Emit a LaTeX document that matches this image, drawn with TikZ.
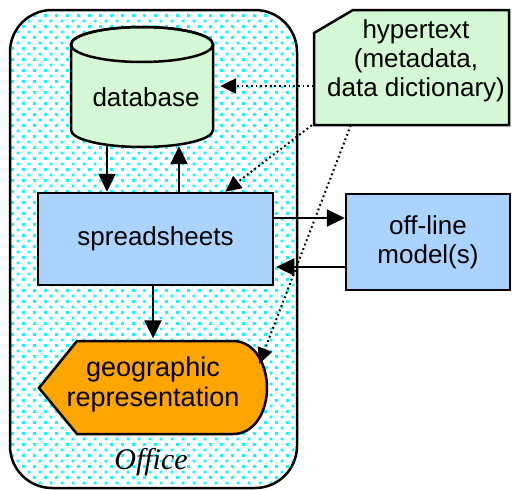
\documentclass[tikz,border=0pt]{standalone}
\usepackage{fontspec}
\setmainfont{Liberation Sans}
\newfontfamily\officefont{Liberation Serif}
\usetikzlibrary{arrows.meta,patterns,calc}
\pgfdeclarepatternformonly{cyandots}{\pgfqpoint{-1pt}{-1pt}}{\pgfqpoint{12pt}{12pt}}{\pgfqpoint{11pt}{11pt}}{%
  \pgfpathrectangle{\pgfqpoint{0pt}{0pt}}{\pgfqpoint{2.8pt}{2.8pt}}%
  \pgfpathrectangle{\pgfqpoint{5.5pt}{5.5pt}}{\pgfqpoint{2.8pt}{2.8pt}}%
  \pgfusepath{fill}}
\definecolor{dbgreen}{RGB}{212,248,212}
\definecolor{boxblue}{RGB}{170,212,255}
\definecolor{geoorange}{RGB}{255,165,0}
\definecolor{dotcyan}{RGB}{0,255,255}
\begin{document}
\begin{tikzpicture}[x=1pt,y=-1pt,
  lbl/.style={font=\fontsize{26}{29}\selectfont, align=center, inner sep=0pt},
  anchorbox/.style={draw=none, inner sep=0pt},
  bluebox/.style={draw, line width=2.5pt, fill=boxblue, inner sep=0pt, align=center, font=\fontsize{26}{29}\selectfont},
  arr/.style={line width=2.2pt, -{Triangle[length=18pt,width=17pt]}},
  dotarr/.style={line width=2pt, dash pattern=on 1.8pt off 2.9pt, -{Triangle[length=16pt,width=15pt]}}
]
\useasboundingbox (0,0) rectangle (512,490);
% Office region
\fill[white] (10,10) [rounded corners=42pt] rectangle (297,488);
\fill[pattern=cyandots, pattern color=dotcyan] (10,10) [rounded corners=42pt] rectangle (297,488);
\draw[line width=2.5pt] (10,10) [rounded corners=42pt] rectangle (297,488);
\node[anchor=base, inner sep=0pt, font=\officefont\itshape\fontsize{30}{32}\selectfont] (office) at (151,469) {Office};

% database cylinder
\filldraw[fill=dbgreen, line width=2.5pt] (71,44.5) -- (71,130)
  arc[start angle=180, end angle=360, x radius=71pt, y radius=17pt]
  -- (213,44.5)
  arc[start angle=0, end angle=180, x radius=71pt, y radius=17.5pt] -- cycle;
\draw[line width=2.5pt] (142,44.5) ellipse [x radius=71pt, y radius=17.5pt];
\node[anchorbox, minimum width=142pt, minimum height=118pt] (db) at (142,86) {};
\node[lbl] (dblabel) at (146,97) {database};

% spreadsheets
\node[bluebox, minimum width=235pt, minimum height=92pt] (ss) at (155.5,239) {spreadsheets};
% off-line models
\node[bluebox, minimum width=164pt, minimum height=96pt] (om) at (428,242) {off-line\\model(s)};

% geographic representation
\filldraw[fill=geoorange, line width=2.5pt] (39,388) -- (77,341) -- (233,341)
  .. controls (255,341) and (267,365) .. (267,388)
  .. controls (267,411) and (255,434) .. (233,434) -- (77,434) -- cycle;
\node[anchorbox, lbl, font=\fontsize{27}{30}\selectfont, minimum width=228pt, minimum height=93pt] (geo) at (153,385) {geographic\\representation};

% hypertext
\filldraw[fill=dbgreen, line width=2.5pt] (314,33) -- (353,10) -- (509,10) -- (509,125) -- (314,125) -- cycle;
\node[anchorbox, minimum width=195pt, minimum height=115pt] (hyp) at (411.5,67.5) {};
\node[lbl] (hyplabel) at (416,61) {hypertext\\(metadata,\\data dictionary)};

% solid connectors
\draw[arr] ([xshift=-35pt]db.south) -- ([xshift=-35pt]db.south |- ss.north);
\draw[arr] ([xshift=37pt]db.south |- ss.north) -- ([xshift=37pt, yshift=-1pt]db.south);
\draw[arr] ([yshift=21pt]ss.east) -- ([yshift=21pt]ss.east -| om.west);
\draw[arr] ([yshift=-25pt]om.west) -- ([yshift=-25pt, xshift=2pt]om.west -| ss.east);
\draw[arr] (ss.south -| geo.north) -- (geo.north);

% dotted connectors
\draw[dotarr] ([yshift=-18.5pt]hyp.west) -- ([yshift=-18.5pt, xshift=7pt]hyp.west -| db.east);
\draw[dotarr] ([xshift=-2pt]hyp.south west) -- ([xshift=-49pt]ss.north east);
\draw[dotarr] ([xshift=37pt]hyp.south west) -- ($(geo.east)+(-8pt,21pt)$);
\end{tikzpicture}
\end{document}
